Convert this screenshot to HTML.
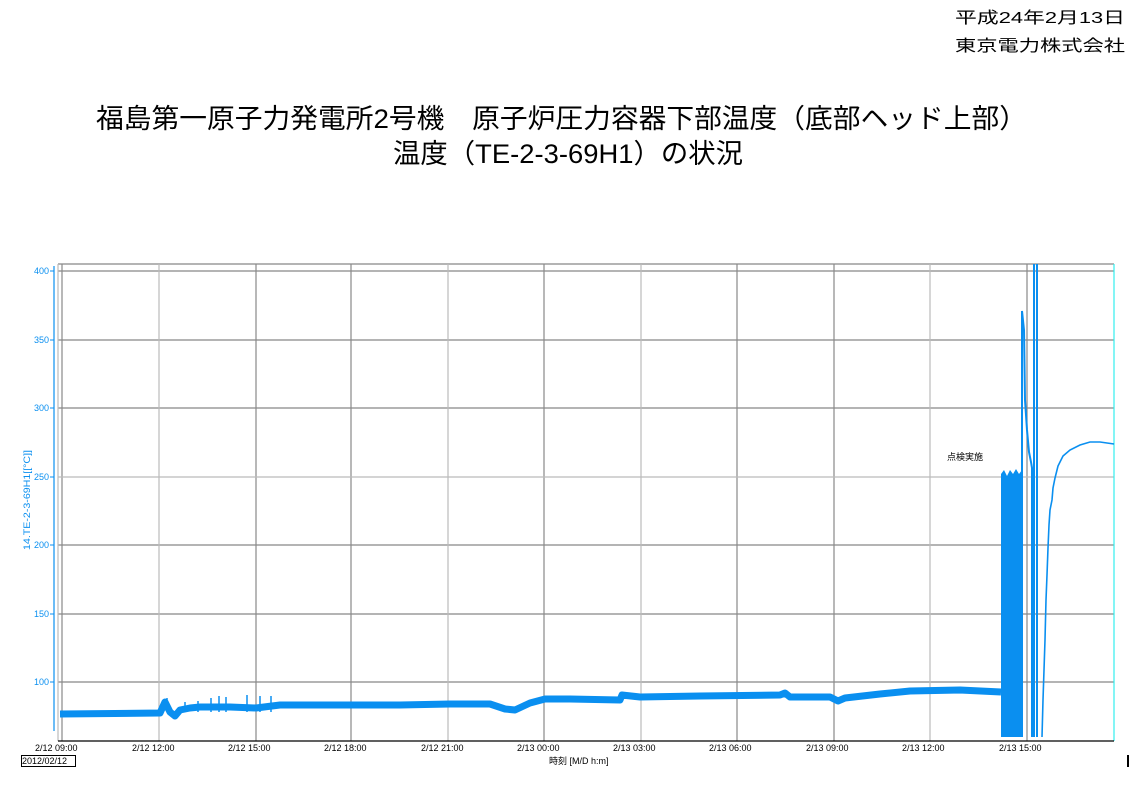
<!DOCTYPE html>
<html><head><meta charset="utf-8"><style>
html,body{margin:0;padding:0;background:#fff;}
svg{display:block;}
text{font-family:"Liberation Sans","Noto Sans CJK JP",sans-serif;}
</style></head><body>
<svg width="1141" height="785" viewBox="0 0 1141 785" xmlns="http://www.w3.org/2000/svg">
<text x="955" y="23" font-size="16" textLength="170" lengthAdjust="spacingAndGlyphs">平成24年2月13日</text>
<text x="955" y="51" font-size="16" textLength="170" lengthAdjust="spacingAndGlyphs">東京電力株式会社</text>
<text x="96" y="128" font-size="27" textLength="931" lengthAdjust="spacingAndGlyphs">福島第一原子力発電所2号機　原子炉圧力容器下部温度（底部ヘッド上部）</text>
<text x="393" y="163" font-size="27" textLength="350" lengthAdjust="spacingAndGlyphs">温度（TE-2-3-69H1）の状況</text>

<g stroke="#888" stroke-width="1.2">
<line x1="58" y1="264" x2="1114" y2="264"/>
<line x1="58" y1="271" x2="1114" y2="271"/>
<line x1="58" y1="340" x2="1114" y2="340"/>
<line x1="58" y1="408" x2="1114" y2="408"/>
<line x1="58" y1="545" x2="1114" y2="545"/>
<line x1="58" y1="614" x2="1114" y2="614"/>
<line x1="58" y1="682" x2="1114" y2="682"/>
<line x1="62" y1="264" x2="62" y2="741"/>
<line x1="256" y1="264" x2="256" y2="741"/>
<line x1="351" y1="264" x2="351" y2="741"/>
<line x1="544" y1="264" x2="544" y2="741"/>
<line x1="737" y1="264" x2="737" y2="741"/>
<line x1="834" y1="264" x2="834" y2="741"/>
<line x1="1027" y1="264" x2="1027" y2="741"/>
</g>
<g stroke="#bbb" stroke-width="1.2">
<line x1="58" y1="477" x2="1114" y2="477"/>
<line x1="159" y1="264" x2="159" y2="741"/>
<line x1="448" y1="264" x2="448" y2="741"/>
<line x1="641" y1="264" x2="641" y2="741"/>
<line x1="930" y1="264" x2="930" y2="741"/>
<line x1="58" y1="264" x2="58" y2="741"/>
</g>
<line x1="1114" y1="264" x2="1114" y2="741" stroke="#3ee" stroke-width="1.2"/>
<line x1="58" y1="741" x2="1114" y2="741" stroke="#000" stroke-width="1.2"/>

<line x1="54" y1="266" x2="54" y2="731" stroke="#0a8ff0" stroke-width="1.2"/>
<g stroke="#0a8ff0" stroke-width="1"><line x1="50" y1="271" x2="54" y2="271"/><line x1="50" y1="340" x2="54" y2="340"/><line x1="50" y1="408" x2="54" y2="408"/><line x1="50" y1="477" x2="54" y2="477"/><line x1="50" y1="545" x2="54" y2="545"/><line x1="50" y1="614" x2="54" y2="614"/><line x1="50" y1="682" x2="54" y2="682"/></g>
<g fill="#0a8ff0" font-size="9" text-anchor="end">
<text x="49" y="274">400</text><text x="49" y="343">350</text><text x="49" y="411">300</text><text x="49" y="480">250</text><text x="49" y="548">200</text><text x="49" y="617">150</text><text x="49" y="685">100</text>
</g>
<text transform="translate(30,550) rotate(-90)" fill="#0a8ff0" font-size="9" textLength="100" lengthAdjust="spacingAndGlyphs">14.TE-2-3-69H1[[°C]]</text>

<g font-size="9" fill="#000">
<text x="35" y="751">2/12 09:00</text><text x="132" y="751">2/12 12:00</text><text x="228" y="751">2/12 15:00</text><text x="324" y="751">2/12 18:00</text><text x="421" y="751">2/12 21:00</text><text x="517" y="751">2/13 00:00</text><text x="613" y="751">2/13 03:00</text><text x="709" y="751">2/13 06:00</text><text x="806" y="751">2/13 09:00</text><text x="902" y="751">2/13 12:00</text><text x="999" y="751">2/13 15:00</text>
<text x="22" y="764">2012/02/12</text>
<text x="549" y="764">時刻 [M/D h:m]</text>
</g>
<rect x="21.5" y="755.5" width="54" height="11" fill="none" stroke="#000"/>
<rect x="1127" y="755" width="2" height="12" fill="#000"/>
<text x="947" y="460" font-size="9">点検実施</text>

<g stroke="#0a8ff0" fill="none">
<polyline stroke-width="7" stroke-linejoin="round" points="60,714 160,713 165,702 170,712 175,716 180,710 190,708 200,707 230,707 256,708 280,705 300,705 400,705 450,704 490,704 505,709 515,710 530,703 545,699 570,699 620,700 622,695 640,697 700,696 780,695 785,693 790,697 830,697 838,701 845,698 880,694 910,691 960,690 1001,692"/>
<g stroke-width="1.5"><line x1="167" y1="698" x2="167" y2="712"/><line x1="185" y1="702" x2="185" y2="712"/><line x1="198" y1="701" x2="198" y2="712"/><line x1="211" y1="698" x2="211" y2="712"/><line x1="219" y1="696" x2="219" y2="712"/><line x1="226" y1="697" x2="226" y2="712"/><line x1="247" y1="695" x2="247" y2="712"/><line x1="260" y1="696" x2="260" y2="712"/><line x1="271" y1="696" x2="271" y2="712"/></g>
<polyline stroke-width="2" points="1022,737 1022,311 1024,330 1025,400 1027,430 1029,452 1031,462 1032,468 1032,737"/>
<line x1="1034" y1="264" x2="1034" y2="737" stroke-width="2"/>
<line x1="1037" y1="264" x2="1037" y2="737" stroke-width="2"/>
<polyline stroke-width="1.6" points="1042,737 1043,700 1045,640 1046,600 1047,575 1048,548 1049,525 1050,510 1052,500 1053,488 1055,478 1058,466 1063,456 1070,450 1080,445 1090,442 1100,442 1114,444"/>
</g>
<polygon fill="#0a8ff0" points="1001,737 1001,474 1004,470 1007,476 1010,470 1013,474 1016,469 1019,474 1022,470 1023,737"/>
</svg>
</body></html>
